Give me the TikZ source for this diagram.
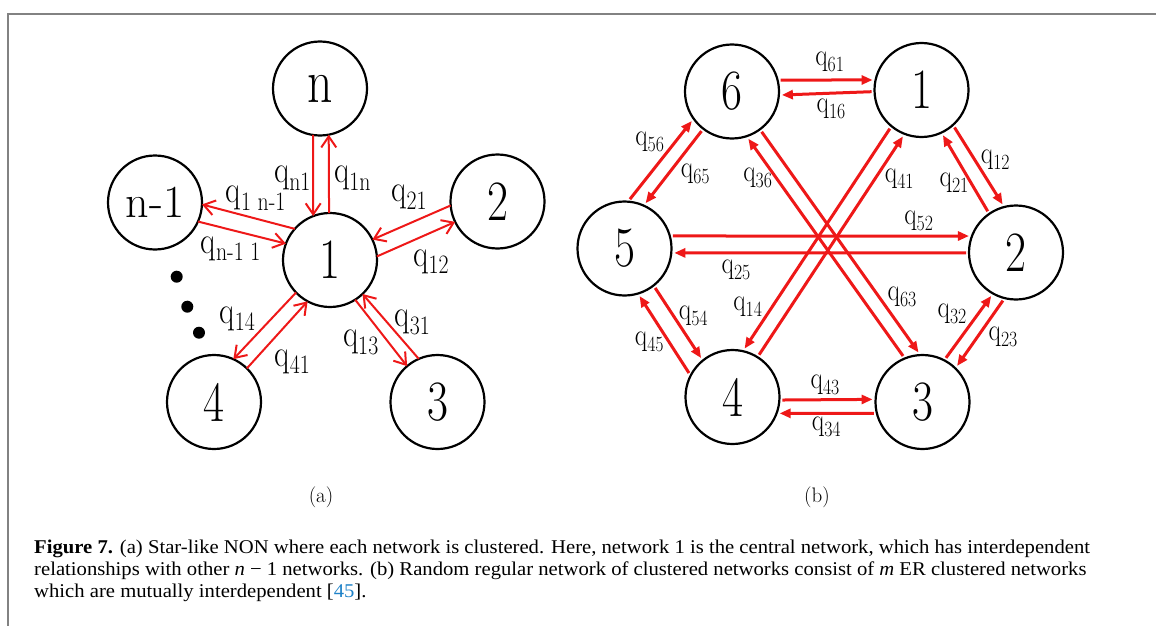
\documentclass[tikz,border=0pt]{standalone}
\usepackage{fontspec}
\usepackage{graphicx}
\usetikzlibrary{calc,arrows.meta}
\newfontfamily\capfont{Liberation Serif}
\definecolor{lred}{RGB}{238,24,24}
\definecolor{citeblue}{RGB}{30,130,200}
\definecolor{framegray}{RGB}{130,130,130}
\newcommand\crad{47}
\newcommand\cgap{0}
% arrow from node #2 to node #3, offset #4 (at #2) and #5 (at #3) to the left of the direction
\newcommand\edg[5][]{\draw[#1] ($(#2.center)!{(sqrt(\crad*\crad-(#4)*(#4))+\cgap)*1pt}!(#3.center)!{(#4)*1pt}!90:(#3.center)$) -- ($(#3.center)!{(sqrt(\crad*\crad-(#5)*(#5))+\cgap)*1pt}!(#2.center)!{(#5)*1pt}!-90:(#2.center)$);}
\newcommand\ql[1]{\scalebox{0.82}[1]{q\raisebox{-0.45ex}{\scalebox{0.7}{#1}}}}
\newcommand\nl[1]{\scalebox{0.8}[1]{#1}}
\newcommand\capw[1]{\scalebox{1.06}[1]{#1}}
\tikzset{
  netnode/.style={circle, draw=black, line width=2.2pt, minimum size=94pt, inner sep=0pt, font=\fontsize{57}{60}\selectfont},
  larr/.style={draw=lred, line width=2pt, -{Straight Barb[length=11pt,width=15pt]}},
  rarr/.style={draw=lred, line width=3pt, -{Triangle[length=11pt,width=9pt]}},
  llab/.style={inner sep=0pt, font=\fontsize{38}{40}\selectfont},
  rlab/.style={inner sep=0pt, font=\fontsize{31}{33}\selectfont},
  dotnode/.style={circle, fill=black, minimum size=12pt, inner sep=0pt},
  sublab/.style={inner sep=0pt, font=\fontsize{21}{24}\selectfont},
  capline/.style={inner sep=0pt, anchor=base west, font=\capfont\fontsize{19.5}{22}\selectfont},
}
\begin{document}
\begin{tikzpicture}[x=1pt,y=-1pt]
\useasboundingbox (0,0) rectangle (1156,626);
\draw[framegray, line width=2pt] (8,626) -- (8,14) -- (1156,14);

% ---------- (a) star-like NON ----------
\node[netnode] (Ln) at (320,88.5) {\scalebox{0.8}[1]{\fontsize{62}{64}\selectfont n}};
\node[netnode] (Lm) at (155,202.5) {{\fontsize{46}{48}\selectfont n-1}};
\node[netnode] (L2) at (497.5,201.5) {\nl{2}};
\node[netnode] (L1) at (330,260) {\nl{1}};
\node[netnode] (L4) at (214,402) {\nl{4}};
\node[netnode] (L3) at (437.5,402) {\nl{3}};

\edg[larr]{Ln}{L1}{-9.7}{-14.2}
\edg[larr]{L1}{Ln}{-1.8}{-6}
\edg[larr]{Lm}{L1}{-4.7}{1.8}
\edg[larr]{L1}{Lm}{-18.6}{-12.8}
\edg[larr]{L2}{L1}{-11.7}{-5.3}
\edg[larr]{L1}{L2}{-12.1}{-5.3}
\edg[larr]{L1}{L4}{-5.7}{-12.1}
\edg[larr]{L4}{L1}{-4.2}{-8.8}
\edg[larr]{L1}{L3}{-3.9}{-2.6}
\edg[larr]{L3}{L1}{-11.1}{-5.4}

\node[llab] (lqn1) at (292.3,178.3) {\ql{n1}};
\node[llab] (lq1n) at (352.3,178.3) {\ql{1n}};
\node[llab] (lq1m) at (255.7,198.3) {\ql{1 n-1}};
\node[llab] (lqm1) at (230.7,249) {\ql{n-1 1}};
\node[llab] (lq21) at (409,197.3) {\ql{21}};
\node[llab] (lq12) at (431,262) {\ql{12}};
\node[llab] (lq14) at (237.3,319) {\ql{14}};
\node[llab] (lq41) at (292.3,361.7) {\ql{41}};
\node[llab] (lq13) at (360.7,342.3) {\ql{13}};
\node[llab] (lq31) at (412.3,322.3) {\ql{31}};

\node[dotnode] (dot1) at (176.7,276.7) {};
\node[dotnode] (dot2) at (187.3,306.7) {};
\node[dotnode] (dot3) at (199,332.7) {};

\node[sublab] (capa) at (321,497.5) {(a)};

% ---------- (b) random regular network ----------
\renewcommand\cgap{3}
\node[netnode] (R6) at (732,91.5) {\nl{6}};
\node[netnode] (R1) at (921.5,90) {\nl{1}};
\node[netnode] (R5) at (624.5,248.5) {\nl{5}};
\node[netnode] (R2) at (1016,252.5) {\nl{2}};
\node[netnode] (R4) at (732.5,397) {\nl{4}};
\node[netnode] (R3) at (922.5,402) {\nl{3}};

\edg[rarr]{R6}{R1}{11.1}{10.4}
\edg[rarr]{R1}{R6}{1.3}{3.9}
\edg[rarr]{R5}{R6}{23.4}{16.5}
\edg[rarr]{R6}{R5}{-2.8}{-8.2}
\edg[rarr]{R1}{R2}{9.7}{12.6}
\edg[rarr]{R2}{R1}{3.7}{4.2}
\edg[rarr]{R5}{R2}{13}{16}
\edg[rarr]{R2}{R5}{1}{3.9}
\edg[rarr]{R5}{R4}{1.6}{-2.5}
\edg[rarr]{R4}{R5}{21.1}{15.8}
\edg[rarr]{R4}{R3}{-1.7}{1.3}
\edg[rarr]{R3}{R4}{12.6}{15.1}
\edg[rarr]{R3}{R2}{3.5}{-2}
\edg[rarr]{R2}{R3}{14.4}{10.2}
\edg[rarr]{R1}{R4}{-6.7}{-15.1}
\edg[rarr]{R4}{R1}{-0.5}{-8.5}
\edg[rarr]{R6}{R3}{4.2}{22.5}
\edg[rarr]{R3}{R6}{-7.5}{10.8}

\node[rlab] (rq61) at (829.7,62) {\ql{61}};
\node[rlab] (rq16) at (831,109) {\ql{16}};
\node[rlab] (rq56) at (649.7,141.7) {\ql{56}};
\node[rlab] (rq65) at (695.3,174) {\ql{65}};
\node[rlab] (rq36) at (757.7,178.3) {\ql{36}};
\node[rlab] (rq41) at (899.3,179) {\ql{41}};
\node[rlab] (rq21) at (954,182.7) {\ql{21}};
\node[rlab] (rq12) at (995.3,160) {\ql{12}};
\node[rlab] (rq52) at (918.7,220.7) {\ql{52}};
\node[rlab] (rq25) at (736,270) {\ql{25}};
\node[rlab] (rq14) at (747.7,306.7) {\ql{14}};
\node[rlab] (rq54) at (693.3,315.7) {\ql{54}};
\node[rlab] (rq45) at (649.3,342.3) {\ql{45}};
\node[rlab] (rq43) at (825,385) {\ql{43}};
\node[rlab] (rq34) at (826.3,427.3) {\ql{34}};
\node[rlab] (rq63) at (902,297.3) {\ql{63}};
\node[rlab] (rq32) at (952,314) {\ql{32}};
\node[rlab] (rq23) at (1003,337.3) {\ql{23}};

\node[sublab] (capb) at (817,497.5) {(b)};

% ---------- caption ----------
\node[capline] (cap1) at (34,553) {\capw{{\bfseries Figure 7.} (a) Star-like NON where each network is clustered. Here, network 1 is the central network, which has interdependent}};
\node[capline] (cap2) at (34,575) {\capw{relationships with other \textit{n}~−~1 networks. (b) Random regular network of clustered networks consist of \textit{m} ER clustered networks}};
\node[capline] (cap3) at (34,597) {\capw{which are mutually interdependent [\textcolor{citeblue}{45}].}};
\end{tikzpicture}
\end{document}
